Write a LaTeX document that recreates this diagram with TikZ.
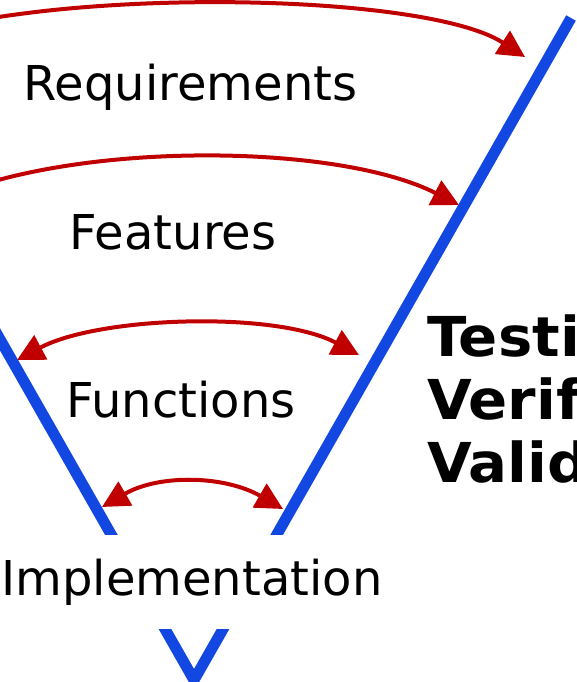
\documentclass[tikz,border=0pt]{standalone}
\usepackage{fontspec}
\setmainfont{DejaVu Sans}
\newfontfamily\vboldfont[FakeStretch=1.05]{DejaVu Sans Bold}
\usetikzlibrary{arrows.meta}
\definecolor{vblue}{RGB}{18,72,225}
\definecolor{vred}{RGB}{192,0,0}
\tikzset{
  vline/.style={draw=vblue, line width=11pt, line join=miter},
  arc1/.style={draw=vred, line width=4pt, -{Triangle[length=27pt,width=27pt]}},
  arc2/.style={draw=vred, line width=4pt, {Triangle[length=27pt,width=27pt]}-{Triangle[length=27pt,width=27pt]}},
  lbl/.style={font=\fontsize{48}{56}\selectfont, anchor=base, inner sep=0pt},
  tlbl/.style={font=\fontsize{55}{63}\vboldfont, anchor=base west, inner sep=0pt}
}
\begin{document}
\begin{tikzpicture}[x=1pt,y=-1pt]
\useasboundingbox (0,0) rectangle (576,682);
% the V
\coordinate (vl) at (-183,18);
\coordinate (va) at (194,680);
\coordinate (vr) at (571,18);
\draw[vline] (vl) -- (va) -- (vr);
% labels
\node[lbl] (req) at (190.5,101) {Requirements};
\node[lbl] (fea) at (173,249) {Features};
\node[lbl] (fun) at (181,417) {Functions};
\node[fill=white, minimum height=94pt, inner xsep=4pt,
      font=\fontsize{48}{56}\selectfont] (imp) at (192,582) {Implementation};
\node[tlbl] (tst) at (427,356) {Testing};
\node[tlbl] (ver) at (427,419) {Verification};
\node[tlbl] (val) at (427,482) {Validation};
% arrow end points
\coordinate (a1l) at (-135,57);
\coordinate (a1r) at (525,57);
\coordinate (a2l) at (-69,205);
\coordinate (a2r) at (459,205);
\coordinate (a3l) at (17,360);
\coordinate (a3r) at (359,355);
\coordinate (a4l) at (102,507);
\coordinate (a4r) at (283,509);
% arcs
\draw[arc1] (a1l) .. controls (-26.2,-13.6) and (416.2,-13.6) .. (a1r);
\draw[arc1] (a2l) .. controls (56.6,141) and (333.4,141) .. (a2r);
\draw[arc2] (a3l) .. controls (99.7,316) and (276.3,311) .. (a3r);
\draw[arc2] (a4l) .. controls (159.7,473.7) and (225.3,475.7) .. (a4r);
\end{tikzpicture}
\end{document}
